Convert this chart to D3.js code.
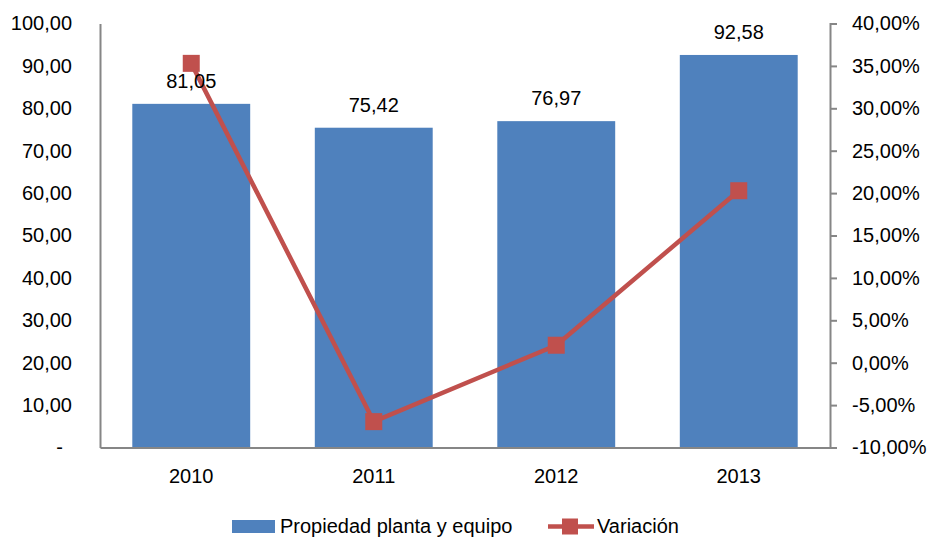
<!DOCTYPE html>
<html><head><meta charset="utf-8">
<script src="https://cdn.jsdelivr.net/npm/d3@7"></script>
<style>body{margin:0;background:#fff}svg{display:block}text{font-family:"Liberation Sans",Arial,sans-serif;fill:#000}</style>
</head><body><svg id="c" width="930" height="537"></svg>
<script>
const years = ["2010","2011","2012","2013"];
const propiedad = [81.05, 75.42, 76.97, 92.58];
const variacion = [0.353, -0.0695, 0.0206, 0.2028];
const leftTicks = [0,10,20,30,40,50,60,70,80,90,100];
const rightTicks = [-0.10,-0.05,0,0.05,0.10,0.15,0.20,0.25,0.30,0.35,0.40];
const barName = "Propiedad planta y equipo";
const lineName = "Variación";

const svg = d3.select("#c");
const L = 100, R = 830, T = 23.5, B = 447.5;
const fs = 20;
const x = d3.scaleBand().domain(years).range([L, R]).paddingInner(0.354).paddingOuter(0.177);
const yL = d3.scaleLinear().domain([0,100]).range([B, T]);
const yR = d3.scaleLinear().domain([-0.10,0.40]).range([B, T]);
const fmt2 = v => v.toFixed(2).replace(".", ",");
const fmtL = v => v === 0 ? "-" : fmt2(v);
const fmtR = v => (v*100).toFixed(2).replace(".", ",") + "%";

// bars
svg.append("g").selectAll("rect").data(propiedad).join("rect")
  .attr("x", (d,i) => x(years[i])).attr("width", x.bandwidth())
  .attr("y", d => yL(d)).attr("height", d => B - yL(d))
  .attr("fill", "#4F81BD");

// axes
const axisColor = "#868686";
const gL = svg.append("g").attr("transform", `translate(${L},0)`)
  .call(d3.axisLeft(yL).tickValues(leftTicks).tickFormat(fmtL).tickSize(0).tickPadding(28));
gL.select(".domain").attr("stroke", axisColor).attr("stroke-width", 2);
gL.selectAll("text").style("font-size", fs+"px").attr("font-family", null)
  .attr("dx", d => d === 0 ? "-9" : null);

const gR = svg.append("g").attr("transform", `translate(${R},0)`)
  .call(d3.axisRight(yR).tickValues(rightTicks).tickFormat(fmtR).tickSize(7).tickPadding(15));
gR.select(".domain").attr("stroke", axisColor).attr("stroke-width", 2);
gR.selectAll("line").attr("stroke", axisColor).attr("stroke-width", 2);
gR.selectAll("text").style("font-size", fs+"px").attr("font-family", null);

const gB = svg.append("g").attr("transform", `translate(0,${B})`)
  .call(d3.axisBottom(x).tickSize(0).tickPadding(21));
gB.select(".domain").attr("stroke", axisColor).attr("stroke-width", 2);
gB.selectAll("text").style("font-size", fs+"px").attr("font-family", null);

// line
const cx = i => x(years[i]) + x.bandwidth()/2;
svg.append("path").datum(variacion)
  .attr("d", d3.line().x((d,i) => cx(i)).y(d => yR(d)))
  .attr("fill", "none").attr("stroke", "#C0504D").attr("stroke-width", 4.5);
const ms = 17;
svg.append("g").selectAll("rect").data(variacion).join("rect")
  .attr("x", (d,i) => cx(i) - ms/2).attr("y", d => yR(d) - ms/2)
  .attr("width", ms).attr("height", ms).attr("fill", "#C0504D");

// data labels
svg.append("g").selectAll("text").data(propiedad).join("text")
  .attr("x", (d,i) => cx(i)).attr("y", d => yL(d) - 16)
  .attr("text-anchor", "middle").style("font-size", fs+"px")
  .text(d => fmt2(d));

// legend
const lg = svg.append("g");
lg.append("rect").attr("x", 232).attr("y", 520).attr("width", 43).attr("height", 13).attr("fill", "#4F81BD");
lg.append("text").attr("x", 280).attr("y", 533).style("font-size", fs+"px").text(barName);
lg.append("line").attr("x1", 548).attr("x2", 594).attr("y1", 526.5).attr("y2", 526.5)
  .attr("stroke", "#C0504D").attr("stroke-width", 4.5);
lg.append("rect").attr("x", 562).attr("y", 518.5).attr("width", 16).attr("height", 16).attr("fill", "#C0504D");
lg.append("text").attr("x", 597).attr("y", 533).style("font-size", fs+"px").text(lineName);
</script></body></html>
